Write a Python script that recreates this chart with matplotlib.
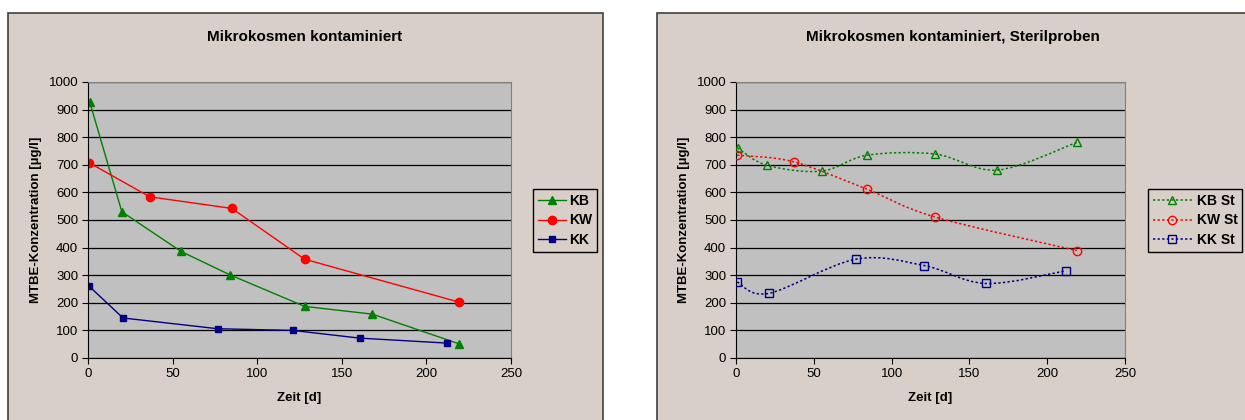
import numpy as np
import matplotlib
matplotlib.use('Agg')
import matplotlib.pyplot as plt
from matplotlib.patches import Rectangle, PathPatch
from matplotlib.path import Path
from matplotlib.lines import Line2D

plt.rcParams['font.family'] = ['Liberation Sans', 'DejaVu Sans']

# Daten - Mikrokosmen kontaminiert
kb_t = [1, 20, 55, 84, 128, 168, 219]
kb_c = [928, 530, 386, 301, 187, 159, 52]
kw_t = [0.5, 36.5, 85, 128, 219]
kw_c = [708, 584, 542, 358, 203]
kk_t = [0.5, 20.7, 76.7, 121, 160.6, 212]
kk_c = [261, 145, 106, 100, 72, 54]

# Daten - Sterilproben
kbst_t = [1, 20, 55, 84.4, 128, 168, 219]
kbst_c = [761, 698, 677, 735, 739, 681, 781]
kwst_t = [0.8, 37, 84.4, 127.8, 219]
kwst_c = [735, 711, 611, 511, 389]
kkst_t = [0.8, 21, 77, 121, 160.7, 212]
kkst_c = [275, 234, 358, 335, 270, 316]

titel_links = 'Mikrokosmen kontaminiert'
titel_rechts = 'Mikrokosmen kontaminiert, Sterilproben'
xlabel = 'Zeit [d]'
ylabel = 'MTBE-Konzentration [µg/l]'

GRUEN = '#008000'
ROT = '#FF0000'
BLAU = '#000080'
HINTERGRUND = '#D8D0C8'
PLOTFLAECHE = '#C0C0C0'
PUNKTIERT = (0, (1.5, 1.5))

W, H = 1245, 420
fig = plt.figure(figsize=(W / 100, H / 100), dpi=100)


def px_rect(x0, y0, x1, y1):
    # Pixel (oben links) -> Figurkoordinaten
    return [x0 / W, 1 - y1 / H, (x1 - x0) / W, (y1 - y0) / H]


def glatt(ax, x, y, farbe):
    # Excel-artige geglättete Linie (Catmull-Rom als Bezier)
    p = np.column_stack([x, y]).astype(float)
    verts = [p[0]]
    codes = [Path.MOVETO]
    for i in range(len(p) - 1):
        p0 = p[i - 1] if i > 0 else p[i]
        p3 = p[i + 2] if i + 2 < len(p) else p[i + 1]
        c1 = p[i] + (p[i + 1] - p0) / 6
        c2 = p[i + 1] - (p3 - p[i]) / 6
        verts += [c1, c2, p[i + 1]]
        codes += [Path.CURVE4] * 3
    patch = PathPatch(Path(verts, codes), facecolor='none', edgecolor=farbe,
                      lw=1.1, linestyle=PUNKTIERT, zorder=3)
    ax.add_patch(patch)


def achsen(rect, titel, box, titel_x):
    fig.patches.append(Rectangle((box[0] / W, -0.05), (box[1] - box[0]) / W, 1.05 - 13 / H,
                                 transform=fig.transFigure, facecolor=HINTERGRUND,
                                 edgecolor='#404040', lw=1.2, zorder=-5))
    ax = fig.add_axes(px_rect(*rect))
    ax.set_facecolor(PLOTFLAECHE)
    ax.set_xlim(0, 250)
    ax.set_ylim(0, 1000)
    ax.set_xticks(range(0, 251, 50))
    ax.set_yticks(range(0, 1001, 100))
    ax.grid(axis='y', color='black', lw=0.9)
    ax.set_axisbelow(True)
    for s in ['top', 'right']:
        ax.spines[s].set_color('#808080')
    for s in ['left', 'bottom']:
        ax.spines[s].set_color('black')
    ax.tick_params(labelsize=9.5, length=4, color='black', pad=3)
    ax.set_xlabel(xlabel, fontsize=9.5, fontweight='bold', labelpad=9)
    ax.set_ylabel(ylabel, fontsize=9.5, fontweight='bold', labelpad=5)
    fig.text(titel_x / W, 1 - 37 / H, titel, ha='center', va='center',
             fontsize=11, fontweight='bold')
    return ax


# links
ax1 = achsen((88, 82, 511, 358), titel_links, (8, 603), 305)
ax1.plot(kb_t, kb_c, color=GRUEN, marker='^', ms=6, lw=1, label='KB')
ax1.plot(kw_t, kw_c, color=ROT, marker='o', ms=6, lw=1, label='KW')
ax1.plot(kk_t, kk_c, color=BLAU, marker='s', ms=5, lw=1, label='KK')
leg1 = ax1.legend(loc='upper left', bbox_to_anchor=(533 / W, 1 - 189 / H),
                  bbox_transform=fig.transFigure, frameon=True, fancybox=False,
                  prop={'weight': 'bold', 'size': 10}, handlelength=2.0,
                  handletextpad=0.25, borderpad=0.35, labelspacing=0.4,
                  borderaxespad=0)
leg1.get_frame().set_facecolor(HINTERGRUND)
leg1.get_frame().set_edgecolor('black')
leg1.get_frame().set_alpha(1)

# rechts
ax2 = achsen((736, 82, 1125, 358), titel_rechts, (657, 1300), 953)
for t, c, farbe, m in [(kbst_t, kbst_c, GRUEN, '^'), (kwst_t, kwst_c, ROT, 'o'),
                       (kkst_t, kkst_c, BLAU, 's')]:
    glatt(ax2, t, c, farbe)
    ax2.plot(t, c, ls='none', marker=m, ms=6 if m != 's' else 5.5, mfc='none',
             mec=farbe, mew=1, zorder=4)
handles = [Line2D([], [], color=GRUEN, ls=PUNKTIERT, lw=1.1, marker='^', ms=6, mfc='none'),
           Line2D([], [], color=ROT, ls=PUNKTIERT, lw=1.1, marker='o', ms=6, mfc='none'),
           Line2D([], [], color=BLAU, ls=PUNKTIERT, lw=1.1, marker='s', ms=5.5, mfc='none')]
leg2 = ax2.legend(handles, ['KB St', 'KW St', 'KK St'], loc='upper left',
                  bbox_to_anchor=(1148 / W, 1 - 189 / H), bbox_transform=fig.transFigure,
                  frameon=True, fancybox=False, prop={'weight': 'bold', 'size': 10},
                  handlelength=2.8, handletextpad=0.35, borderpad=0.35,
                  labelspacing=0.4, borderaxespad=0)
leg2.get_frame().set_facecolor(HINTERGRUND)
leg2.get_frame().set_edgecolor('black')
leg2.get_frame().set_alpha(1)

fig.savefig('out.png', dpi=100, facecolor='white')
